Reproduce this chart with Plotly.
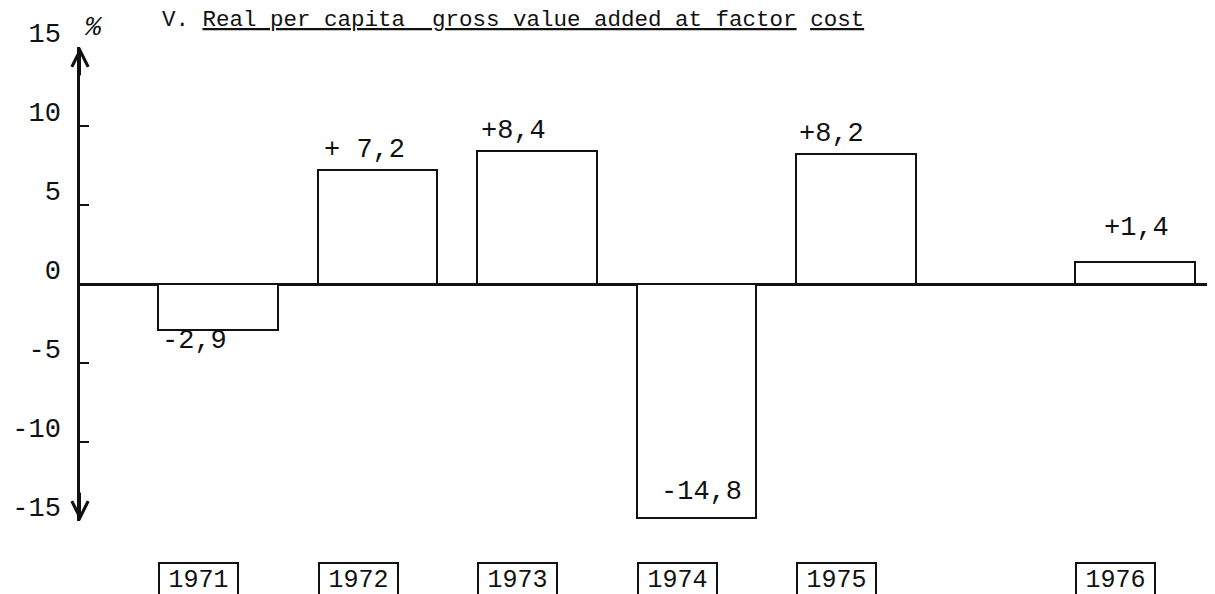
import plotly.graph_objects as go

# ---- data ----
years = ["1971", "1972", "1973", "1974", "1975", "1976"]
values = [-2.9, 7.2, 8.4, -14.8, 8.2, 1.4]
value_labels = ["-2,9", "+ 7,2", "+8,4", "-14,8", "+8,2", "+1,4"]
y_ticks = [15, 10, 5, 0, -5, -10, -15]
y_tick_labels = ["15", "10", "5", "0", "-5", "-10", "-15"]
title_text = "V. <u>Real per capita  gross value added at factor</u> <u>cost</u>"

# ---- layout helpers (positions / styles) ----
slot = [0, 1, 2, 3, 4, 5.75]          # horizontal slot of each year (1976 set apart)
bar_w = 0.75
label_xshift = [2, 4, 2, 22, 1, 27]
label_yshift = [-11, 20, 20, 26, 20, 34]
FONT = "Liberation Mono"
INK = "#111111"
PAGE_OFF = 8  # default body margin of the html page

fig = go.Figure()
fig.add_trace(go.Bar(
    x=slot, y=values, width=bar_w,
    marker=dict(color="white", line=dict(color=INK, width=2)),
    showlegend=False, hoverinfo="skip",
))

ann = []
# value labels
for s, v, t, dx, dy in zip(slot, values, value_labels, label_xshift, label_yshift):
    ann.append(dict(x=s - bar_w / 2, y=v, xref="x", yref="y", text=t, showarrow=False,
                    xanchor="left", yanchor="middle", xshift=dx, yshift=dy,
                    font=dict(family=FONT, size=27, color=INK)))
# year boxes
for s, yr in zip(slot, years):
    ann.append(dict(x=s - bar_w / 2, y=0, xref="x", yref="paper", text=yr + "<br> ",
                    showarrow=False, xanchor="left", yanchor="top", yshift=-41,
                    width=73, align="center", bordercolor=INK, borderwidth=2, borderpad=2,
                    font=dict(family=FONT, size=25, color=INK)))
# axis arrows
ann.append(dict(x=0, y=15, xref="paper", yref="y", ax=0, ay=30, text="", showarrow=True,
                arrowhead=5, arrowsize=1.6, arrowwidth=2, arrowcolor=INK))
ann.append(dict(x=0, y=-15, xref="paper", yref="y", ax=0, ay=-30, text="", showarrow=True,
                arrowhead=5, arrowsize=1.6, arrowwidth=2, arrowcolor=INK))
# percent sign
ann.append(dict(x=0, y=15, xref="paper", yref="y", text="<i>%</i>", showarrow=False,
                xanchor="center", yanchor="middle", xshift=13, yshift=19,
                font=dict(family=FONT, size=27, color=INK)))
# title
ann.append(dict(x=(160 - 80) / 1135, y=1 + (47 - 20) / 474, xref="paper", yref="paper",
                text=title_text, showarrow=False, xanchor="left", yanchor="middle",
                font=dict(family=FONT, size=22.5, color=INK)))

fig.update_layout(
    width=1215 - PAGE_OFF, height=594 - PAGE_OFF, autosize=False,
    margin=dict(l=80 - PAGE_OFF, r=0, t=47 - PAGE_OFF, b=73),
    paper_bgcolor="white", plot_bgcolor="white",
    bargap=0,
    annotations=ann,
    xaxis=dict(range=[-0.865, 6.25], showgrid=False, zeroline=False, showline=False,
               showticklabels=False, ticks=""),
    yaxis=dict(range=[-15, 15], tickmode="array", tickvals=y_ticks, ticktext=y_tick_labels,
               showgrid=False, zeroline=True, zerolinecolor=INK, zerolinewidth=2.5,
               showline=True, linecolor=INK, linewidth=2.5, ticks="",
               ticklabelstandoff=11, ticklabelshift=-14,
               tickfont=dict(family=FONT, size=27, color=INK),
               minor=dict(tickmode="array", tickvals=[-10, -5, 5, 10], ticks="inside",
                          ticklen=9, tickwidth=2, tickcolor=INK, showgrid=False)),
)

fig.write_html("out.html")
